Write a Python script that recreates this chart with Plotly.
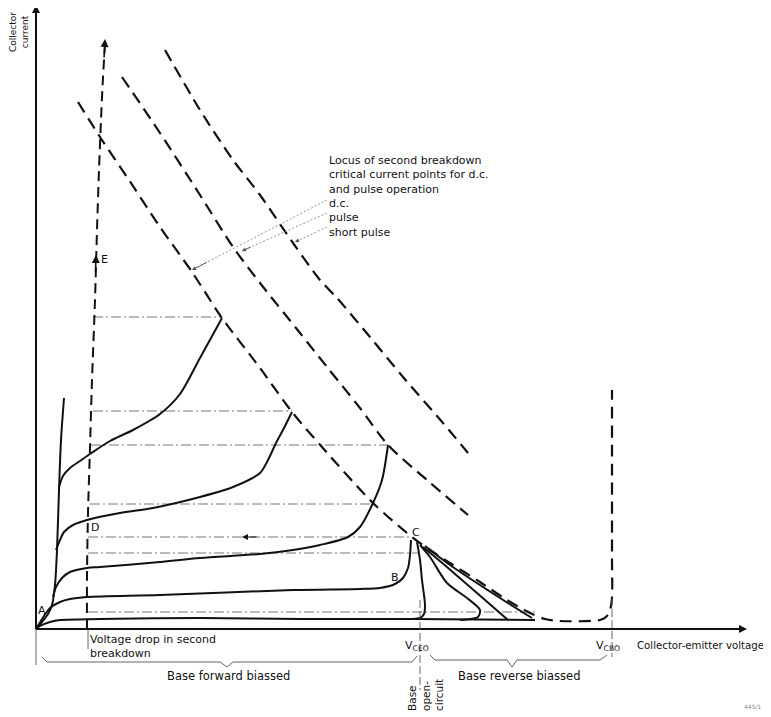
import plotly.graph_objects as go

# ---------------- data (schematic units: V = collector-emitter voltage, I = collector current) -------------
sat_v = [0, 6, 12, 16, 19, 21, 23, 25, 28]
sat_i = [0, 7, 15, 24, 44, 79, 139, 189, 231]

c1_v = [23, 27, 34, 44, 54, 74, 97, 124, 144, 164, 186]
c1_i = [142, 153, 161, 168, 175, 188, 199, 215, 235, 271, 311]

c2_v = [20, 24, 28, 37, 51, 84, 117, 164, 197, 224, 232, 240, 248, 256]
c2_i = [79, 89, 97, 104, 109, 116, 121, 132, 142, 156, 169, 186, 201, 217]

c3_v = [17, 20, 26, 34, 51, 64, 124, 164, 224, 257, 284, 312, 324, 337, 346, 352]
c3_i = [32, 42, 51, 57, 61, 62, 67, 71, 75, 79, 84, 92, 102, 126, 149, 184]

c4_v = [0, 8, 14, 24, 34, 51, 124, 257, 324, 344, 359, 367, 372, 374, 375]
c4_i = [0, 13, 21, 27, 30, 32, 34, 39, 40, 41, 45, 51, 61, 74, 89]

c5_v = [0, 4, 14, 24, 64, 164, 264, 379, 499]
c5_i = [0, 3, 7, 9, 10, 11, 10, 10, 9]

ceo_v = [381, 384, 386, 389, 388, 384, 377]
ceo_i = [87, 69, 49, 24, 15, 11, 10]
r1_v = [384, 394, 411, 431, 444, 442, 434, 424]
r1_i = [84, 72, 46, 31, 19, 12, 10, 9]
r2_v = [387, 411, 441, 472]
r2_i = [82, 62, 36, 9]
r3_v = [389, 414, 464, 496]
r3_i = [83, 64, 31, 11]

dc_v = [42, 64, 91, 124, 156, 186, 224, 256, 286, 337, 376, 394, 414, 444, 471, 494, 509, 524, 564, 570, 574, 576, 576, 576]
dc_i = [527, 492, 452, 402, 357, 311, 261, 217, 182, 126, 92, 79, 66, 47, 29, 16, 10, 8, 9, 12, 19, 31, 69, 239]

pulse_v = [86, 124, 164, 197, 224, 264, 291, 324, 352, 391, 432]
pulse_i = [552, 496, 434, 382, 346, 296, 262, 221, 184, 149, 114]

short_v = [129, 164, 197, 224, 257, 284, 301, 334, 367, 407, 432]
short_i = [579, 519, 469, 434, 386, 349, 331, 292, 252, 206, 176]

e_v = [51, 51, 52, 54, 56, 59, 61, 63, 65, 67, 69]
e_i = [0, 52, 116, 182, 249, 329, 399, 459, 509, 552, 584]

dd_i = [312, 218, 184, 125, 92, 76, 17]
dd_v0 = [57, 57, 55, 54, 52, 52, 52]
dd_v1 = [186, 256, 352, 337, 376, 382, 500]

V_CEO = 384
V_CBO = 576
V_DROP = 52

fwd_brace_v = [6, 11, 184, 191, 197, 376, 381]
fwd_brace_i = [-28, -33, -33, -38, -33, -33, -27]
rev_brace_v = [394, 399, 471, 476, 481, 564, 571]
rev_brace_i = [-26, -31, -31, -38, -31, -31, -26]

leader_from_v = [291, 291, 291]
leader_from_i = [429, 416, 402]
leader_to_v = [156, 206, 259]
leader_to_i = [359, 378, 387]

point_labels = ["A", "B", "C", "D", "E"]
point_v = [6, 359, 380, 59, 68]
point_i = [19, 52, 97, 102, 370]

locus_text = ("Locus of second breakdown<br>critical current points for d.c.<br>and pulse operation"
              "<br>d.c.<br>pulse<br>short pulse")

# ---------------- figure ----------------
BLACK = "#111111"
GREY = "#555555"
FONT = "DejaVu Sans"

fig = go.Figure()


def line(x, y, width=2.0, dash="solid", color=BLACK, shape="spline"):
    fig.add_trace(go.Scatter(x=x, y=y, mode="lines", hoverinfo="skip",
                             line=dict(color=color, width=width, dash=dash, shape=shape,
                                       smoothing=0.8 if shape == "spline" else None)))


# axes
line([0, 0], [0, 618], width=2.0, shape="linear")
line([0, 705], [0, 0], width=2.0, shape="linear")

# dash-dot voltage-drop lines
for i, (a, b) in enumerate(zip(dd_v0, dd_v1)):
    line([a, b], [dd_i[i], dd_i[i]], width=0.9, dash="10px,3px,2px,3px", color="#666666", shape="linear")

# output characteristics
line(sat_v, sat_i, width=2.0)
for vv, ii in [(c1_v, c1_i), (c2_v, c2_i), (c3_v, c3_i), (c4_v, c4_i), (c5_v, c5_i),
               (ceo_v, ceo_i), (r1_v, r1_i), (r2_v, r2_i), (r3_v, r3_i)]:
    line(vv, ii, width=2.0)

# second-breakdown loci
line(dc_v, dc_i, width=2.2, dash="12px,7px")
line(pulse_v, pulse_i, width=2.2, dash="12px,7px")
line(short_v, short_i, width=2.2, dash="12px,7px")

# E dashed line
line(e_v, e_i, width=2.0, dash="10px,6px")

# thin markers below axis
line([0, 0], [0, -36], width=0.9, color=GREY, shape="linear")
line([V_DROP, V_DROP], [0, -20], width=0.9, color=GREY, shape="linear")
line([V_CEO, V_CEO], [29, -61], width=0.9, color=GREY, dash="8px,3px", shape="linear")
line([V_CBO, V_CBO], [31, -28], width=0.9, color=GREY, dash="8px,3px", shape="linear")

# braces
line(fwd_brace_v, fwd_brace_i, width=0.9, color=GREY, shape="linear")
line(rev_brace_v, rev_brace_i, width=0.9, color=GREY, shape="linear")

# leader lines
for a, b, c, d in zip(leader_from_v, leader_from_i, leader_to_v, leader_to_i):
    line([a, c], [b, d], width=0.8, color="#777777", dash="2px,2px", shape="linear")

annotations = []


def arrow(x, y, ax, ay, width=1.6, color=BLACK, size=1.0):
    annotations.append(dict(x=x, y=y, ax=ax, ay=ay, xref="x", yref="y", axref="x", ayref="y",
                            text="", showarrow=True, arrowhead=2, arrowsize=size,
                            arrowwidth=width, arrowcolor=color))


arrow(0, 624, 0, 590)
arrow(711, 0, 680, 0)
arrow(69, 590, 68, 570)
arrow(60, 374, 59.5, 356)
arrow(206, 92, 222, 92, width=1.2)
for a, b, c, d in zip(leader_from_v, leader_from_i, leader_to_v, leader_to_i):
    arrow(c, d, c + (a - c) * 0.12, d + (b - d) * 0.12, width=0.9, color="#555555", size=0.9)


def text(t, x, y, size=10, xanchor="center", yanchor="middle", angle=0, align="center", color=BLACK):
    annotations.append(dict(x=x, y=y, xref="x", yref="y", text=t, showarrow=False,
                            xanchor=xanchor, yanchor=yanchor, textangle=angle, align=align,
                            font=dict(family=FONT, size=size, color=color)))


text("Collector<br>current", -17, 597, size=9, angle=-90)
text("Collector-emitter voltage", 599, -16, size=10.2, xanchor="left")
text("V<sub>CEO</sub>", 381, -17, size=11)
text("V<sub>CBO</sub>", 572, -17, size=11)
text("Base forward biassed", 192, -47, size=11.5)
text("Base reverse biassed", 483, -47, size=11.5)
text("Base<br>open-<br>circuit", 389, -66, size=10.5, angle=-90, align="left")
text("Voltage drop in second<br>breakdown", 52, -2, size=11, xanchor="left", yanchor="top", align="left")
text(locus_text, 291, 477, size=11, xanchor="left", yanchor="top", align="left")
for t, x, y in zip(point_labels, point_v, point_i):
    text(t, x, y, size=11)
text("445/1", 716, -77, size=6, color="#888888")

# the page body has an 8px margin, so the ranges are shifted by 8 units to keep
# the drawing where it sits in the reference
fig.update_layout(
    width=771, height=717,
    margin=dict(l=0, r=0, t=0, b=0),
    paper_bgcolor="white", plot_bgcolor="white",
    showlegend=False, hovermode=False,
    xaxis=dict(range=[-28, 743], visible=False, fixedrange=True),
    yaxis=dict(range=[-96, 621], visible=False, fixedrange=True),
    annotations=annotations,
)

fig.write_html("out.html")
